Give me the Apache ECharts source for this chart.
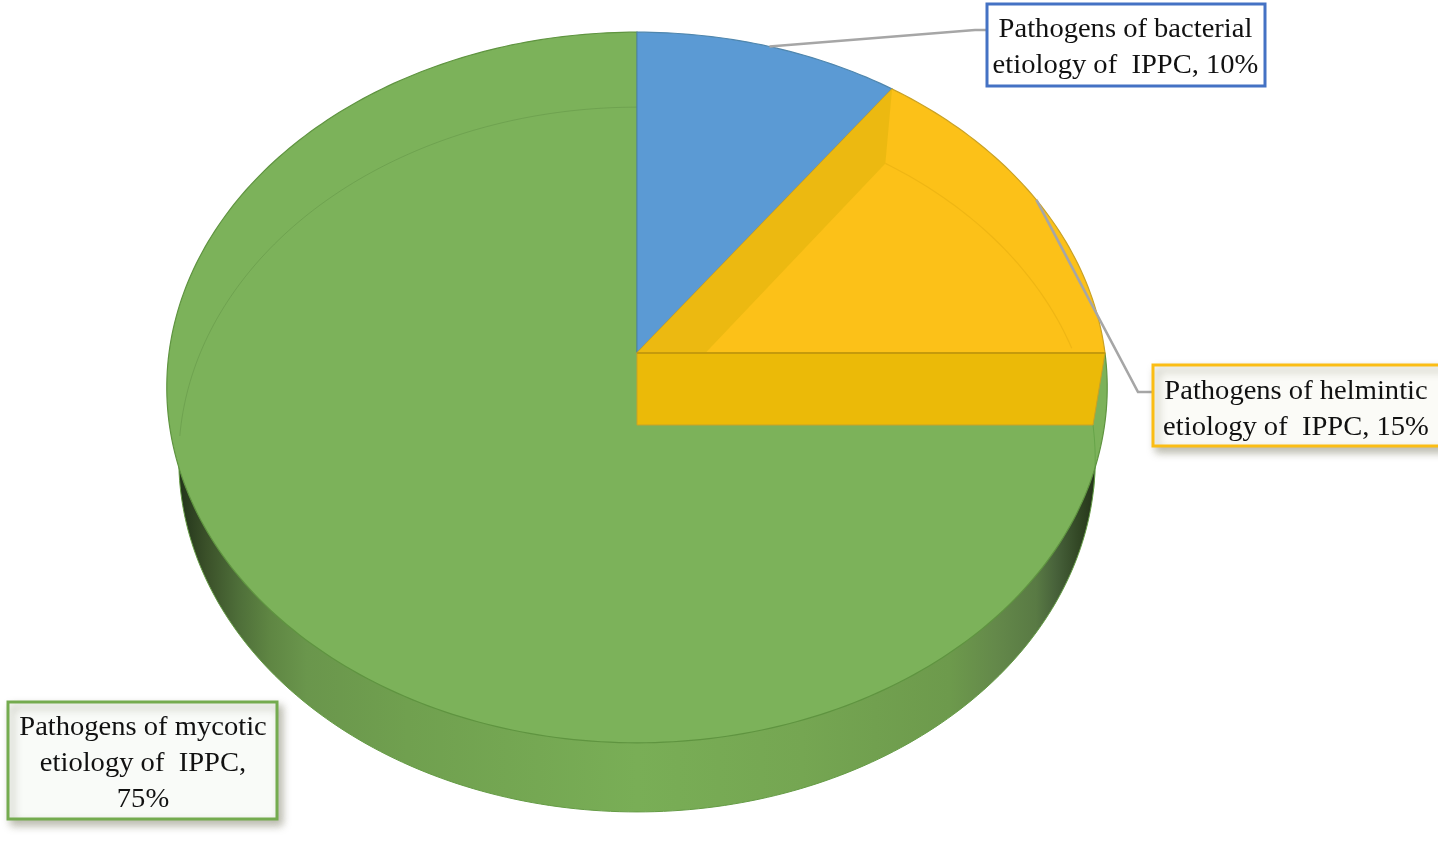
<!DOCTYPE html>
<html>
<head>
<meta charset="utf-8">
<style>html,body{margin:0;padding:0;background:#fff}#c{width:1441px;height:841px}</style>
<script src="https://cdn.jsdelivr.net/npm/echarts@6/dist/echarts.min.js"></script>
</head>
<body>
<div id="c"></div>
<script>
var categories = ['bacterial', 'helmintic', 'mycotic'];
var shares = [10, 15, 75];
var labels = [
  'Pathogens of bacterial\netiology of  IPPC, 10%',
  'Pathogens of helmintic\netiology of  IPPC, 15%',
  'Pathogens of mycotic\netiology of  IPPC,\n75%'
];

// perspective discs (layout only): top face and bottom face of the pie
var topFace = {cx: 637, cy: 353, a: 352, b: 468, k: 0.097};
var lowFace = {cx: 637, cy: 425, a: 349, b: 456, k: 0.098};
var total = shares.reduce(function (s, v) { return s + v; }, 0);

function pt(f, frac) {
  var th = frac * Math.PI * 2, u = Math.sin(th), v = Math.cos(th), d = 1 + f.k * v;
  return [f.cx + f.b * u / d, f.cy - f.a * v / d];
}
function arc(f, from, to) {
  var n = Math.max(8, Math.round((to - from) * 360)), out = [];
  for (var i = 0; i <= n; i++) out.push(pt(f, from + (to - from) * i / n));
  return out;
}
function slice(f, from, to) { return [[f.cx, f.cy]].concat(arc(f, from, to)); }

var sideGradient = new echarts.graphic.LinearGradient(0, 0, 1, 0, [
  {offset: 0, color: '#22331a'}, {offset: 0.03, color: '#3a5029'}, {offset: 0.065, color: '#4e6e39'},
  {offset: 0.1, color: '#5f8643'}, {offset: 0.14, color: '#6a964c'}, {offset: 0.25, color: '#70a04f'},
  {offset: 0.5, color: '#79ae56'}, {offset: 0.68, color: '#75a652'}, {offset: 0.84, color: '#6d9a4c'},
  {offset: 0.89, color: '#64894a'}, {offset: 0.935, color: '#597a44'}, {offset: 0.957, color: '#47613a'},
  {offset: 0.985, color: '#2f4322'}, {offset: 1, color: '#24331a'}
]);
var serif = '"Liberation Serif", serif';
var callouts = [
  {x: 987, y: 4, w: 278, h: 82, stroke: '#4472c4', fill: '#ffffff', shadow: 0, tx: 1125.5, ty: 48,
   elbow: [[975, 30], [987, 30]]},
  {x: 1153, y: 365, w: 300, h: 81, stroke: '#fbbd14', fill: '#fbfbf7', shadow: 1, tx: 1296, ty: 410,
   elbow: [[1138, 392], [1153, 392]]},
  {x: 8, y: 702, w: 269, h: 117, stroke: '#74ab4f', fill: '#f9fbf8', shadow: 1, tx: 143, ty: 764, elbow: null}
];
var styles = [
  {fill: '#5b9ad4', stroke: '#4f86ad'},
  {fill: '#fcc118', stroke: '#c9a227'},
  {fill: '#7cb25a', stroke: '#5f9440'}
];

function renderItem(params, api) {
  var i = params.dataIndex, value = api.value(0), before = 0;
  for (var j = 0; j < i; j++) before += shares[j];
  var from = before / total, to = (before + value) / total, mid = (from + to) / 2;
  var st = styles[i], kids = [];
  function poly(points, style, z2) { kids.push({type: 'polygon', shape: {points: points}, style: style, z2: z2, silent: true}); }
  function line(points, style, z2) {
    style.fill = null;
    kids.push({type: 'polyline', shape: {points: points}, style: style, z2: z2, silent: true});
  }
  if (i === 2) {
    poly(slice(lowFace, from, to), {fill: sideGradient, stroke: '#659c45', lineWidth: 1}, 1);
    poly(slice(topFace, from, to), {fill: st.fill, stroke: st.stroke, lineWidth: 1.2}, 2);
    line(arc(lowFace, 0.745, 1), {stroke: 'rgba(80,125,55,0.3)', lineWidth: 1}, 3);
    line(arc(lowFace, from, from + 0.03), {stroke: 'rgba(80,150,55,0.5)', lineWidth: 1}, 3);
  } else {
    poly(slice(topFace, from, to), {fill: st.fill, stroke: st.stroke, lineWidth: 1.2}, 4 + i);
  }
  if (i === 1) {
    var a = pt(topFace, from), b = pt(lowFace, from), c = pt(topFace, to), d = pt(lowFace, to);
    var apexT = [topFace.cx, topFace.cy], apexL = [lowFace.cx, lowFace.cy];
    poly([apexT, a, b, apexL], {fill: '#ecb911'}, 6);
    line(arc(lowFace, from, to).filter(function (p) { return p[1] <= topFace.cy; }),
      {stroke: '#efb614', lineWidth: 1.2}, 6);
    poly([apexT, c, d, apexL], {fill: '#ebba08', stroke: '#c9a227', lineWidth: 1}, 7);
    line([apexT, c], {stroke: '#c59a0c', lineWidth: 2}, 7);
  }
  var box = callouts[i];
  if (box.elbow) {
    line([pt(topFace, mid)].concat(box.elbow), {stroke: '#a6a6a6', lineWidth: 2.6}, 8);
  }
  kids.push({type: 'rect', silent: true, z2: 9,
    shape: {x: box.x, y: box.y, width: box.w, height: box.h},
    style: {fill: box.fill, stroke: box.stroke, lineWidth: 3,
      shadowColor: box.shadow ? 'rgba(90,90,60,0.4)' : 'transparent',
      shadowBlur: box.shadow ? 8 : 0, shadowOffsetX: box.shadow ? 4 : 0, shadowOffsetY: box.shadow ? 5 : 0}});
  kids.push({type: 'text', silent: true, z2: 10, x: box.tx, y: box.ty, originX: 0, originY: 0, scaleX: 1.02,
    style: {text: labels[i], fill: '#111111', fontFamily: serif, fontSize: 28, lineHeight: 36,
      align: 'center', verticalAlign: 'middle'}});
  if (i === 1) {
    kids.push({type: 'rect', silent: true, z2: 11, shape: {x: 1438, y: 340, width: 10, height: 130}, style: {fill: '#ffffff'}});
  }
  return {type: 'group', children: kids};
}

var chart = echarts.init(document.getElementById('c'), null, {renderer: 'canvas'});
chart.setOption({
  animation: false,
  backgroundColor: '#ffffff',
  series: [{
    type: 'custom',
    coordinateSystem: 'none',
    silent: true,
    renderItem: renderItem,
    encode: {value: 0, itemName: 1},
    data: categories.map(function (name, i) { return {name: name, value: [shares[i]]}; })
  }]
});
</script>
</body>
</html>
